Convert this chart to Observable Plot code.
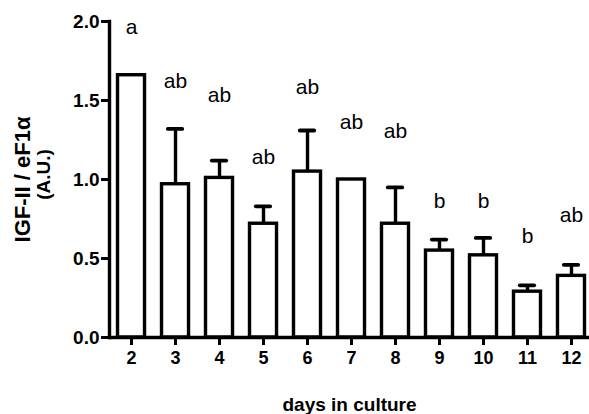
<!DOCTYPE html>
<html><head><meta charset="utf-8">
<script src="https://cdn.jsdelivr.net/npm/d3@7"></script>
<script src="https://cdn.jsdelivr.net/npm/@observablehq/plot@0.6"></script>
<style>body{margin:0;background:#fff;}</style>
</head><body><div id="chart"></div>
<script>
const days = ["2","3","4","5","6","7","8","9","10","11","12"];
const means = [1.66, 0.97, 1.01, 0.72, 1.05, 1.00, 0.72, 0.55, 0.52, 0.29, 0.39];
const sems = [0, 0.35, 0.11, 0.11, 0.26, 0, 0.23, 0.07, 0.11, 0.04, 0.07];
const letters = ["a","ab","ab","ab","ab","ab","ab","b","b","b","ab"];
const letterY = [1.92, 1.58, 1.49, 1.10, 1.54, 1.32, 1.26, 0.82, 0.82, 0.60, 0.73];
const yTicks = [0, 0.5, 1.0, 1.5, 2.0];
const yTitle1 = "IGF-II / eF1α";
const yTitle2 = "(A.U.)";
const xTitle = "days in culture";

const data = days.map((d, i) => ({day: d, mean: means[i], sem: sems[i], letter: letters[i], ly: letterY[i]}));
const errs = data.filter(d => d.sem > 0);
const font = "'Liberation Sans', Arial, Helvetica, sans-serif";

const chart = Plot.plot({
  width: 589, height: 414,
  marginLeft: 109, marginRight: 0, marginTop: 21, marginBottom: 77,
  style: {fontFamily: font, background: "#fff", color: "#000", overflow: "visible"},
  x: {domain: days, paddingInner: 0.386, paddingOuter: 0.148, align: 0.654, round: false, label: null},
  y: {domain: [0, 2], label: null},
  marks: [
    Plot.barY(data, {x: "day", y: "mean", fill: "white", stroke: "black", strokeWidth: 3.4}),
    Plot.ruleX(errs, {x: "day", y1: "mean", y2: d => d.mean + d.sem, stroke: "black", strokeWidth: 3.4}),
    Plot.tickY(errs, {x: "day", y: d => d.mean + d.sem, stroke: "black", strokeWidth: 3.8, strokeLinecap: "round", inset: 6.3}),
    Plot.ruleY([0], {stroke: "black", strokeWidth: 3.4}),
    Plot.frame({anchor: "left", stroke: "black", strokeWidth: 3.4}),
    Plot.axisY({ticks: yTicks, tickFormat: d3.format(".1f"), tickSize: 8, tickPadding: 2, strokeWidth: 3, fontSize: 19, fontWeight: "bold", label: null}),
    Plot.axisX({tickSize: 8, tickPadding: 6, strokeWidth: 3, fontSize: 18, fontWeight: "bold", label: null}),
    Plot.text(data, {x: "day", y: "ly", text: "letter", lineAnchor: "bottom", fontSize: 21, fill: "black"}),
    Plot.text([yTitle1], {frameAnchor: "left", rotate: -90, textAnchor: "middle", lineAnchor: "middle", dx: -87, dy: 0, fontSize: 22, fontWeight: "bold", fill: "black"}),
    Plot.text([yTitle2], {frameAnchor: "left", rotate: -90, textAnchor: "middle", lineAnchor: "middle", dx: -66, dy: -5, fontSize: 19, fontWeight: "bold", fill: "black"}),
    Plot.text([xTitle], {frameAnchor: "bottom", dy: 73, lineAnchor: "bottom", fontSize: 19, fontWeight: "bold", fill: "black"})
  ]
});
document.getElementById("chart").appendChild(chart);
</script>
</body></html>
